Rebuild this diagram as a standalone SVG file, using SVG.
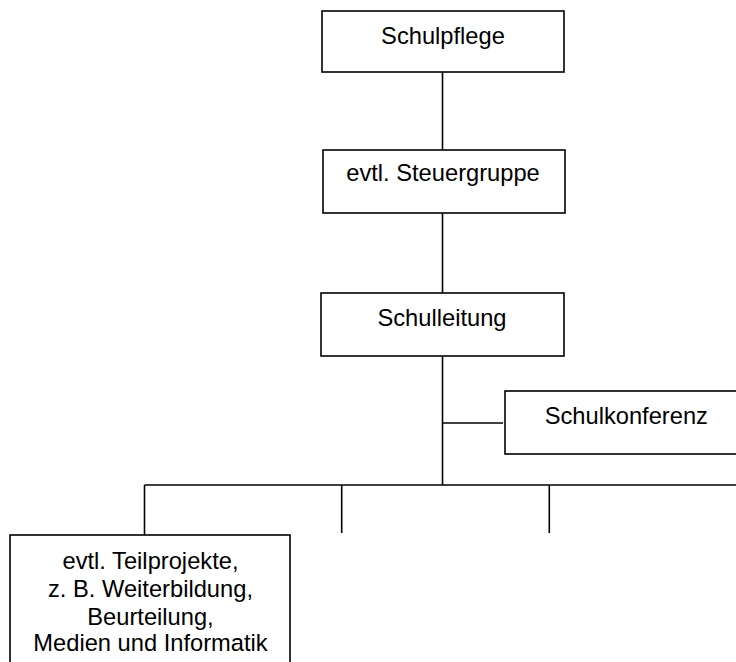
<svg xmlns="http://www.w3.org/2000/svg" width="736" height="662" viewBox="0 0 736 662">
<style>
.box{fill:#fff;stroke:#000;stroke-width:1.6}
.ln{stroke:#000;stroke-width:1.6;fill:none}
text{font-family:"Liberation Sans",Arial,sans-serif;font-size:23.7px;fill:#000;text-anchor:middle}
</style>
<rect width="736" height="662" fill="#fff"/>
<g id="connectors">
<line class="ln" x1="442.5" y1="72" x2="442.5" y2="150"/>
<line class="ln" x1="442.5" y1="213" x2="442.5" y2="293"/>
<line class="ln" x1="442.5" y1="356" x2="442.5" y2="485"/>
<line class="ln" x1="442.5" y1="423" x2="503" y2="423"/>
<line class="ln" x1="144.5" y1="485" x2="740" y2="485"/>
<line class="ln" x1="144.5" y1="485" x2="144.5" y2="535"/>
<line class="ln" x1="341.7" y1="485" x2="341.7" y2="533"/>
<line class="ln" x1="549.3" y1="485" x2="549.3" y2="533"/>
</g>
<g id="schulpflege">
<rect class="box" x="322" y="11" width="242" height="61"/>
<text x="443" y="43.5">Schulpflege</text>
</g>
<g id="steuergruppe">
<rect class="box" x="323" y="150" width="242" height="63"/>
<text x="443" y="180.5">evtl. Steuergruppe</text>
</g>
<g id="schulleitung">
<rect class="box" x="321" y="293" width="243" height="63"/>
<text x="442" y="325.5">Schulleitung</text>
</g>
<g id="schulkonferenz">
<rect class="box" x="505" y="391" width="250" height="63"/>
<text x="626.3" y="424">Schulkonferenz</text>
</g>
<g id="teilprojekte">
<rect class="box" x="10" y="535" width="280" height="150"/>
<text x="150.5" y="568.5">evtl. Teilprojekte,</text>
<text x="150.5" y="596.5">z. B. Weiterbildung,</text>
<text x="150.5" y="624.5">Beurteilung,</text>
<text x="150.5" y="651">Medien und Informatik</text>
</g>
</svg>
